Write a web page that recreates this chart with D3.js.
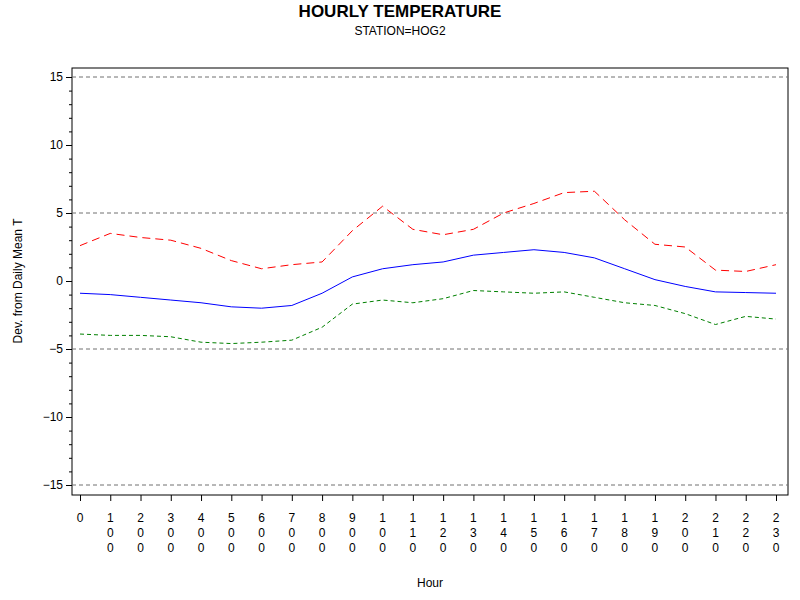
<!DOCTYPE html>
<html><head><meta charset="utf-8">
<script src="https://cdn.jsdelivr.net/npm/d3@7"></script>
<style>body{margin:0;background:#fff}text{font-family:Arial,"Liberation Sans",sans-serif}</style>
</head><body><svg id="c" width="800" height="600"></svg>
<script>
const hours=["0","100","200","300","400","500","600","700","800","900","1000","1100","1200","1300","1400","1500","1600","1700","1800","1900","2000","2100","2200","2300"];
const meanT=[-0.9,-1.0,-1.2,-1.4,-1.6,-1.9,-2.0,-1.8,-0.9,0.3,0.9,1.2,1.4,1.9,2.1,2.3,2.1,1.7,0.9,0.1,-0.4,-0.8,-0.85,-0.9];
const upperT=[2.6,3.5,3.2,3.0,2.4,1.5,0.9,1.2,1.4,3.7,5.5,3.8,3.4,3.8,5.0,5.7,6.5,6.6,4.5,2.7,2.5,0.8,0.7,1.2];
const lowerT=[-3.9,-4.0,-4.0,-4.1,-4.5,-4.6,-4.5,-4.35,-3.4,-1.7,-1.4,-1.6,-1.3,-0.7,-0.8,-0.9,-0.8,-1.2,-1.6,-1.8,-2.4,-3.2,-2.6,-2.8];
const yTicks=[-15,-10,-5,0,5,10,15];
const refLines=[-15,-5,5,15];

const svg=d3.select("#c");
const L=72,R=788,T=68,B=495;
const x=d3.scalePoint().domain(hours).range([80,776]);
const y=d3.scaleLinear().domain([-15,15]).range([485,77]);
svg.append("rect").attr("x",L).attr("y",T).attr("width",R-L).attr("height",B-T).attr("fill","none").attr("stroke","#000");
svg.selectAll(".ref").data(refLines).enter().append("line").attr("x1",L).attr("x2",R).attr("y1",d=>y(d)).attr("y2",d=>y(d)).attr("stroke","#707070").attr("stroke-dasharray","4,3");
const ya=svg.append("g").attr("transform",`translate(${L},0)`).call(d3.axisLeft(y).tickValues(yTicks).tickSize(6).tickFormat(d3.format("d")));
ya.select(".domain").remove();
ya.selectAll("text").attr("font-size",12).attr("fill","#000");
svg.append("g").attr("transform",`translate(${L},0)`).call(d3.axisLeft(y).tickValues(d3.range(-15,16,1).filter(v=>v%5)).tickSize(3).tickFormat("")).select(".domain").remove();
const xa=svg.append("g").attr("transform",`translate(0,${B})`).call(d3.axisBottom(x).tickSize(6).tickFormat(""));
xa.select(".domain").remove();
hours.forEach(h=>{
  const t=svg.append("text").attr("text-anchor","middle").attr("font-size",12).attr("x",x(h));
  h.slice(0,3).split("").forEach((ch,i)=>t.append("tspan").attr("x",x(h)).attr("y",522+i*15).text(ch));
});
const line=d3.line().x((d,i)=>x(hours[i])).y(d=>y(d));
svg.append("path").datum(upperT).attr("d",line).attr("fill","none").attr("stroke","#ff0000").attr("stroke-dasharray","8,5");
svg.append("path").datum(lowerT).attr("d",line).attr("fill","none").attr("stroke","#008000").attr("stroke-dasharray","4,3");
svg.append("path").datum(meanT).attr("d",line).attr("fill","none").attr("stroke","#0000ff");
svg.append("text").attr("x",400).attr("y",17).attr("text-anchor","middle").attr("font-size",17).attr("font-weight","bold").text("HOURLY TEMPERATURE");
svg.append("text").attr("x",400).attr("y",35).attr("text-anchor","middle").attr("font-size",12).text("STATION=HOG2");
svg.append("text").attr("x",430).attr("y",587).attr("text-anchor","middle").attr("font-size",12).text("Hour");
svg.append("text").attr("transform","translate(22,281) rotate(-90)").attr("text-anchor","middle").attr("font-size",12).text("Dev. from Daily Mean T");
</script></body></html>
